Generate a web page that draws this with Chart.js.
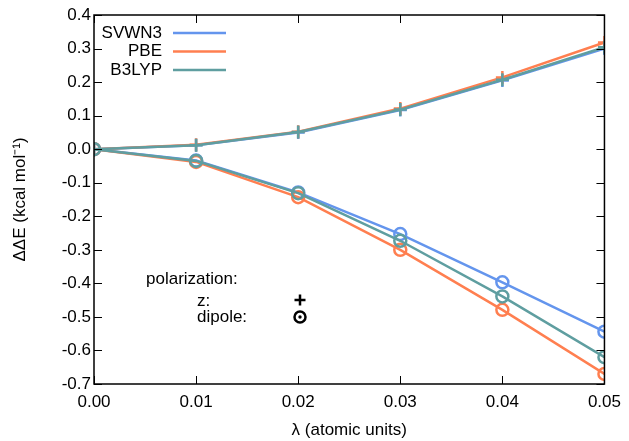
<!DOCTYPE html>
<html>
<head>
<meta charset="utf-8">
<script src="https://cdn.jsdelivr.net/npm/chart.js@4/dist/chart.umd.min.js"></script>
<style>
  body { margin: 0; background: #fff; }
  #wrap { width: 629px; height: 441px; position: relative; }
</style>
</head>
<body>
<div id="wrap"><canvas id="deltaChart"></canvas></div>
<script>
// valores
const lambdas = [0, 0.01, 0.02, 0.03, 0.04, 0.05];
const methods = ['SVWN3', 'PBE', 'B3LYP'];
const colors = ['#6495ED', '#FF7F50', '#5F9EA0'];

// polarização z (cruzes)
const svwn3Z = [0, 0.012, 0.050, 0.117, 0.205, 0.300];
const pbeZ   = [0, 0.013, 0.052, 0.121, 0.214, 0.318];
const b3lypZ = [0, 0.012, 0.051, 0.118, 0.207, 0.304];

// polarização dipolo (círculos)
const svwn3Dip = [0, -0.034, -0.129, -0.253, -0.397, -0.544];
const pbeDip   = [0, -0.038, -0.143, -0.300, -0.479, -0.670];
const b3lypDip = [0, -0.035, -0.131, -0.273, -0.439, -0.620];

const xTicks = [0, 0.01, 0.02, 0.03, 0.04, 0.05];
const yTicks = [-0.7, -0.6, -0.5, -0.4, -0.3, -0.2, -0.1, 0.0, 0.1, 0.2, 0.3, 0.4];

const zSeries = [svwn3Z, pbeZ, b3lypZ];
const dipSeries = [svwn3Dip, pbeDip, b3lypDip];

const FONT = 'Liberation Sans, Arial, sans-serif';
const FSIZE = 17;

function pts(ys) {
    return lambdas.map((x, i) => ({ x: x, y: ys[i] }));
}

const datasets = [];
methods.forEach((m, i) => {
    datasets.push({
        label: m,
        data: pts(zSeries[i]),
        borderColor: colors[i],
        borderWidth: 2.5,
        pointStyle: 'cross',
        pointRadius: 6.5,
        pointBorderWidth: 2.5,
        pointBorderColor: colors[i],
        order: 3 - i
    });
    datasets.push({
        label: m,
        data: pts(dipSeries[i]),
        borderColor: colors[i],
        borderWidth: 2.5,
        pointStyle: 'circle',
        pointRadius: 6,
        pointBorderWidth: 2.5,
        pointBorderColor: colors[i],
        pointBackgroundColor: 'rgba(0,0,0,0)',
        order: 3 - i
    });
});

// moldura + ticks para dentro (estilo gnuplot)
const frame = {
    id: 'frame',
    afterDatasetsDraw(chart) {
        const ctx = chart.ctx;
        const a = chart.chartArea;
        const sx = chart.scales.x, sy = chart.scales.y;
        const tl = 8;
        ctx.save();
        ctx.strokeStyle = '#000';
        ctx.lineWidth = 1;
        ctx.beginPath();
        xTicks.forEach(v => {
            const px = Math.round(sx.getPixelForValue(v)) + 0.5;
            ctx.moveTo(px, a.bottom); ctx.lineTo(px, a.bottom - tl);
            ctx.moveTo(px, a.top); ctx.lineTo(px, a.top + tl);
        });
        yTicks.forEach(v => {
            const py = Math.round(sy.getPixelForValue(v)) + 0.5;
            ctx.moveTo(a.left, py); ctx.lineTo(a.left + tl, py);
            ctx.moveTo(a.right, py); ctx.lineTo(a.right - tl, py);
        });
        ctx.stroke();
        ctx.lineWidth = 1.5;
        ctx.strokeRect(a.left, a.top, a.right - a.left, a.bottom - a.top);

        // legenda
        ctx.font = FSIZE + 'px ' + FONT;
        ctx.textBaseline = 'middle';
        ctx.textAlign = 'right';
        methods.forEach((m, i) => {
            const y = a.top + 18 + i * 18.5;
            ctx.fillStyle = '#000';
            ctx.fillText(m, a.left + 68, y);
            ctx.strokeStyle = colors[i];
            ctx.lineWidth = 2.5;
            ctx.beginPath();
            ctx.moveTo(a.left + 79, y); ctx.lineTo(a.left + 132, y);
            ctx.stroke();
        });

        // chave de polarização
        ctx.textAlign = 'left';
        ctx.fillStyle = '#000';
        ctx.fillText('polarization:', a.left + 52, a.top + 264);
        ctx.fillText('z:', a.left + 103, a.top + 286);
        ctx.fillText('dipole:', a.left + 103, a.top + 302);
        ctx.strokeStyle = '#000';
        ctx.lineWidth = 2.5;
        const kx = a.left + 206;
        ctx.beginPath();
        ctx.moveTo(kx - 5.5, a.top + 285); ctx.lineTo(kx + 5.5, a.top + 285);
        ctx.moveTo(kx, a.top + 279.5); ctx.lineTo(kx, a.top + 290.5);
        ctx.stroke();
        ctx.lineWidth = 2.5;
        ctx.beginPath();
        ctx.arc(kx, a.top + 302, 5.5, 0, Math.PI * 2);
        ctx.stroke();
        ctx.beginPath();
        ctx.arc(kx, a.top + 302, 1.7, 0, Math.PI * 2);
        ctx.fill();
        ctx.restore();
    }
};

const ctx = document.getElementById('deltaChart').getContext('2d');
const deltaChart = new Chart(ctx, {
    type: 'line',
    data: { datasets: datasets },
    options: {
        responsive: true,
        maintainAspectRatio: false,
        animation: false,
        events: [],
        layout: { padding: { top: 15, right: 21, bottom: 0, left: 0 } },
        plugins: {
            legend: { display: false },
            tooltip: { enabled: false }
        },
        scales: {
            x: {
                type: 'linear',
                min: 0,
                max: 0.05,
                afterBuildTicks: s => { s.ticks = xTicks.map(v => ({ value: v })); },
                afterFit: s => { s.height = 57; },
                grid: { display: false, drawTicks: false },
                border: { display: false },
                ticks: {
                    autoSkip: false,
                    maxRotation: 0,
                    padding: 8,
                    color: '#000',
                    font: { family: FONT, size: FSIZE },
                    callback: v => v.toFixed(2)
                },
                title: {
                    display: true,
                    text: 'λ (atomic units)',
                    color: '#000',
                    font: { family: FONT, size: FSIZE },
                    padding: { top: 1, bottom: 0 }
                }
            },
            y: {
                min: -0.7,
                max: 0.4,
                afterBuildTicks: s => { s.ticks = yTicks.map(v => ({ value: v })); },
                afterFit: s => { s.width = 94; },
                grid: { display: false, drawTicks: false },
                border: { display: false },
                ticks: {
                    autoSkip: false,
                    padding: 3,
                    color: '#000',
                    font: { family: FONT, size: FSIZE },
                    callback: v => v.toFixed(1)
                },
                title: {
                    display: true,
                    text: 'ΔΔE (kcal mol⁻¹)',
                    color: '#000',
                    font: { family: FONT, size: FSIZE },
                    padding: { top: 10, bottom: 0 }
                }
            }
        }
    },
    plugins: [frame]
});
</script>
</body>
</html>
